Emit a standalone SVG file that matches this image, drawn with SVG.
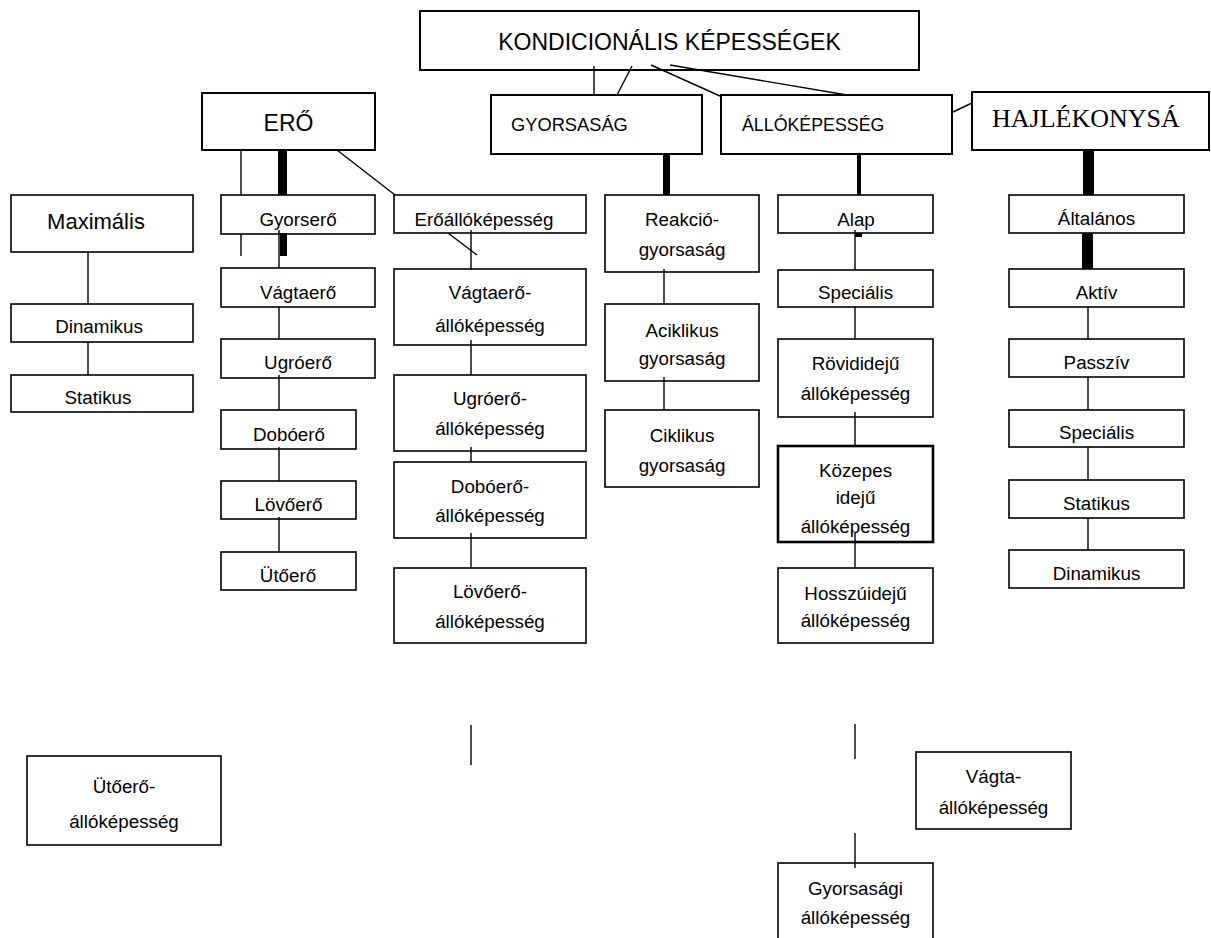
<svg xmlns="http://www.w3.org/2000/svg" width="1211" height="938" viewBox="0 0 1211 938">
<style>
  .box{fill:#fff;stroke:#000;stroke-width:1.6}
  .hbox{fill:#fff;stroke:#000;stroke-width:2}
  .kbox{fill:#fff;stroke:#000;stroke-width:2.6}
  text{font-family:"Liberation Sans",Arial,sans-serif;fill:#000}
  .t{font-size:18.8px;text-anchor:middle}
  .h{font-size:23px}
  .ln{stroke:#000;stroke-width:1.4;fill:none}
  .bar{fill:#000}
</style>
<rect width="1211" height="938" fill="#fff"/>

<g id="kondicionalis"><rect class="hbox" x="420" y="11" width="499" height="59"/><text class="h" x="669.5" y="50" text-anchor="middle">KONDICIONÁLIS KÉPESSÉGEK</text></g>
<g id="ero"><rect class="hbox" x="202" y="93" width="173" height="57"/><text class="h" x="288.5" y="131" text-anchor="middle">ERŐ</text></g>
<g id="gyorsasag"><rect class="hbox" x="491" y="95" width="211" height="59"/><text x="511" y="131" font-size="18.3">GYORSASÁG</text></g>
<g id="allokepesseg"><rect class="hbox" x="721" y="95" width="231" height="59"/><text x="742" y="131" font-size="17.8">ÁLLÓKÉPESSÉG</text></g>
<g id="hajlekonysag"><rect class="hbox" x="972" y="92" width="237" height="58"/><text x="992" y="127" font-size="26" style="font-family:'Liberation Serif','Times New Roman',serif">HAJLÉKONYSÁ</text></g>

<g id="maximalis"><rect class="box" x="11" y="195" width="182" height="57"/><text class="t" x="96" y="229" font-size="22" style="font-size:22px">Maximális</text></g>
<g id="dinamikus-l"><rect class="box" x="11" y="304" width="182" height="38"/><text class="t" x="99" y="333">Dinamikus</text></g>
<g id="statikus-l"><rect class="box" x="11" y="375" width="182" height="37"/><text class="t" x="98" y="404">Statikus</text></g>

<g id="gyorsero"><rect class="box" x="221" y="195" width="154" height="39"/><text class="t" x="298" y="226">Gyorserő</text></g>
<g id="vagtaero"><rect class="box" x="221" y="268" width="154" height="39"/><text class="t" x="298" y="299">Vágtaerő</text></g>
<g id="ugroero"><rect class="box" x="221" y="339" width="154" height="39"/><text class="t" x="298" y="369">Ugróerő</text></g>
<g id="doboero"><rect class="box" x="221" y="410" width="135" height="39"/><text class="t" x="289" y="441">Dobóerő</text></g>
<g id="lovoero"><rect class="box" x="221" y="481" width="135" height="38"/><text class="t" x="288.5" y="511">Lövőerő</text></g>
<g id="utoero"><rect class="box" x="221" y="552" width="135" height="38"/><text class="t" x="288" y="582">Ütőerő</text></g>

<g id="eroallokepesseg"><rect class="box" x="394" y="195" width="192" height="38"/><text class="t" x="484" y="226">Erőállóképesség</text></g>
<g id="vagtaero-all"><rect class="box" x="394" y="269" width="192" height="76"/><text class="t" x="490" y="299">Vágtaerő-</text><text class="t" x="490" y="332">állóképesség</text></g>
<g id="ugroero-all"><rect class="box" x="394" y="375" width="192" height="76"/><text class="t" x="490" y="405">Ugróerő-</text><text class="t" x="490" y="435">állóképesség</text></g>
<g id="doboero-all"><rect class="box" x="394" y="462" width="192" height="76"/><text class="t" x="490" y="493">Dobóerő-</text><text class="t" x="490" y="522">állóképesség</text></g>
<g id="lovoero-all"><rect class="box" x="394" y="568" width="192" height="75"/><text class="t" x="490" y="598">Lövőerő-</text><text class="t" x="490" y="628">állóképesség</text></g>

<g id="reakcio"><rect class="box" x="605" y="195" width="154" height="77"/><text class="t" x="682" y="226">Reakció-</text><text class="t" x="682" y="256">gyorsaság</text></g>
<g id="aciklikus"><rect class="box" x="605" y="304" width="154" height="77"/><text class="t" x="682" y="337">Aciklikus</text><text class="t" x="682" y="365">gyorsaság</text></g>
<g id="ciklikus"><rect class="box" x="605" y="410" width="154" height="77"/><text class="t" x="682" y="442">Ciklikus</text><text class="t" x="682" y="472">gyorsaság</text></g>

<g id="alap"><rect class="box" x="778" y="195" width="155" height="38"/><text class="t" x="856" y="226">Alap</text></g>
<g id="specialis-a"><rect class="box" x="778" y="270" width="155" height="37"/><text class="t" x="855.5" y="299">Speciális</text></g>
<g id="rovididleju"><rect class="box" x="778" y="339" width="155" height="78"/><text class="t" x="855.5" y="370">Rövididejű</text><text class="t" x="855.5" y="400">állóképesség</text></g>
<g id="kozepes"><rect class="kbox" x="778" y="446" width="155" height="96"/><text class="t" x="855.5" y="477">Közepes</text><text class="t" x="855.5" y="504">idejű</text><text class="t" x="855.5" y="533">állóképesség</text></g>
<g id="hosszuideju"><rect class="box" x="778" y="568" width="155" height="75"/><text class="t" x="855.5" y="600">Hosszúidejű</text><text class="t" x="855.5" y="627">állóképesség</text></g>

<g id="altalanos"><rect class="box" x="1009" y="195" width="175" height="38"/><text class="t" x="1096.5" y="225">Általános</text></g>
<g id="aktiv"><rect class="box" x="1009" y="269" width="175" height="38"/><text class="t" x="1096.5" y="299">Aktív</text></g>
<g id="passziv"><rect class="box" x="1009" y="339" width="175" height="38"/><text class="t" x="1096.5" y="369">Passzív</text></g>
<g id="specialis-h"><rect class="box" x="1009" y="410" width="175" height="37"/><text class="t" x="1096.5" y="439">Speciális</text></g>
<g id="statikus-h"><rect class="box" x="1009" y="480" width="175" height="38"/><text class="t" x="1096.5" y="510">Statikus</text></g>
<g id="dinamikus-h"><rect class="box" x="1009" y="550" width="175" height="38"/><text class="t" x="1096.5" y="580">Dinamikus</text></g>

<g id="utoero-all"><rect class="box" x="27" y="756" width="194" height="89"/><text class="t" x="124" y="793">Ütőerő-</text><text class="t" x="124" y="828">állóképesség</text></g>
<g id="vagta-all"><rect class="box" x="916" y="752" width="155" height="77"/><text class="t" x="993.5" y="783">Vágta-</text><text class="t" x="993.5" y="814">állóképesség</text></g>
<g id="gyorsasagi-all"><rect class="box" x="778" y="863" width="155" height="85"/><text class="t" x="855.5" y="895">Gyorsasági</text><text class="t" x="855.5" y="924">állóképesség</text></g>

<g id="connectors">
  <line class="ln" x1="594" y1="66" x2="594" y2="95"/>
  <line class="ln" x1="632" y1="66" x2="617" y2="95"/>
  <line class="ln" x1="651" y1="65" x2="720" y2="96"/>
  <line class="ln" x1="670" y1="65" x2="847" y2="95"/>
  <line class="ln" x1="953" y1="112" x2="972" y2="103"/>

  <line class="ln" x1="241" y1="150" x2="241" y2="195"/>
  <line class="ln" x1="241" y1="234" x2="241" y2="256"/>
  <rect class="bar" x="278" y="150" width="9" height="45"/>
  <line class="ln" x1="337" y1="150" x2="395" y2="195"/>
  <line class="ln" x1="279" y1="230" x2="279" y2="268"/>
  <rect class="bar" x="280" y="233" width="7" height="23"/>
  <line class="ln" x1="279" y1="307" x2="279" y2="339"/>
  <line class="ln" x1="279" y1="375" x2="279" y2="410"/>
  <line class="ln" x1="279" y1="447" x2="279" y2="481"/>
  <line class="ln" x1="279" y1="517" x2="279" y2="552"/>

  <line class="ln" x1="448" y1="233" x2="477" y2="255"/>
  <line class="ln" x1="471" y1="230" x2="471" y2="269"/>
  <line class="ln" x1="471" y1="340" x2="471" y2="375"/>
  <line class="ln" x1="471" y1="447" x2="471" y2="462"/>
  <line class="ln" x1="471" y1="533" x2="471" y2="568"/>

  <line class="ln" x1="88" y1="252" x2="88" y2="304"/>
  <line class="ln" x1="88" y1="342" x2="88" y2="375"/>

  <rect class="bar" x="663" y="154" width="7" height="41"/>
  <line class="ln" x1="664" y1="269" x2="664" y2="304"/>
  <line class="ln" x1="664" y1="377" x2="664" y2="410"/>

  <rect class="bar" x="857" y="154" width="4" height="41"/>
  <rect class="bar" x="855" y="233" width="7" height="4"/>
  <line class="ln" x1="855" y1="230" x2="855" y2="270"/>
  <line class="ln" x1="855" y1="307" x2="855" y2="339"/>
  <line class="ln" x1="855" y1="412" x2="855" y2="446"/>
  <line class="ln" x1="855" y1="533" x2="855" y2="568"/>

  <rect class="bar" x="1083" y="150" width="11" height="45"/>
  <rect class="bar" x="1082" y="233" width="11" height="36"/>
  <line class="ln" x1="1088" y1="307" x2="1088" y2="339"/>
  <line class="ln" x1="1088" y1="377" x2="1088" y2="410"/>
  <line class="ln" x1="1088" y1="447" x2="1088" y2="480"/>
  <line class="ln" x1="1088" y1="518" x2="1088" y2="550"/>

  <line class="ln" x1="471" y1="725" x2="471" y2="765"/>
  <line class="ln" x1="855" y1="724" x2="855" y2="759"/>
  <line class="ln" x1="855" y1="833" x2="855" y2="868"/>
</g>
</svg>
